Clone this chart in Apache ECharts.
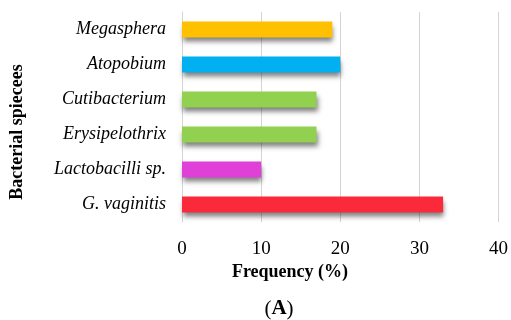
<!DOCTYPE html>
<html><head><meta charset="utf-8">
<script src="https://cdn.jsdelivr.net/npm/echarts@6/dist/echarts.min.js"></script>
<style>html,body{margin:0;padding:0;background:#fff}#c{width:511px;height:320px}</style>
</head><body><div id="c"></div>
<script>
const categories = ['G. vaginitis','Lactobacilli sp.','Erysipelothrix','Cutibacterium','Atopobium','Megasphera'];
const values = [33, 10, 17, 17, 20, 19];
const colors = ['#fa2a3a','#e03fd8','#92d050','#92d050','#00b0f0','#ffc000'];
const xTicks = [0, 10, 20, 30, 40];
const xTitle = 'Frequency (%)';
const yTitle = 'Bacterial spiecees';
const panel = 'A';

const chart = echarts.init(document.getElementById('c'));
chart.setOption({
  animation: false,
  grid: {left: 182, right: 11, top: 12, bottom: 98},
  xAxis: {
    type: 'value', min: 0, max: 40, interval: 10,
    axisLine: {show: false}, axisTick: {show: false},
    splitLine: {lineStyle: {color: '#d4d4d4', width: 1}},
    axisLabel: {fontFamily: 'Liberation Serif', fontSize: 19, color: '#000', margin: 18,
      formatter: v => xTicks.includes(v) ? String(v) : ''}
  },
  yAxis: {
    type: 'category', data: categories,
    axisLine: {show: true, lineStyle: {color: '#d4d4d4', width: 1}},
    axisTick: {show: false},
    axisLabel: {fontFamily: 'Liberation Serif', fontStyle: 'italic', fontSize: 18, color: '#000', margin: 16}
  },
  series: [{
    type: 'bar', barWidth: 16,
    data: values.map((v, i) => ({value: v, itemStyle: {color: colors[i]}})),
    itemStyle: {shadowColor: 'rgba(0,0,0,0.5)', shadowBlur: 5, shadowOffsetX: 1, shadowOffsetY: 4}
  }],
  graphic: [
    {type: 'text', x: 290, y: 272,
     style: {text: xTitle, font: 'bold 18px "Liberation Serif"', fill: '#000', align: 'center', verticalAlign: 'middle'}},
    {type: 'text', x: 17, y: 132, rotation: Math.PI / 2,
     style: {text: yTitle, font: 'bold 18px "Liberation Serif"', fill: '#000', align: 'center', verticalAlign: 'middle'}},
    {type: 'text', x: 279, y: 309,
     style: {text: '({b|' + panel + '})', font: '21px "Liberation Serif"', fill: '#000', align: 'center', verticalAlign: 'middle',
       rich: {b: {fontFamily: 'Liberation Serif', fontWeight: 'bold', fontSize: 21, fill: '#000'}}}}
  ]
});
</script></body></html>
